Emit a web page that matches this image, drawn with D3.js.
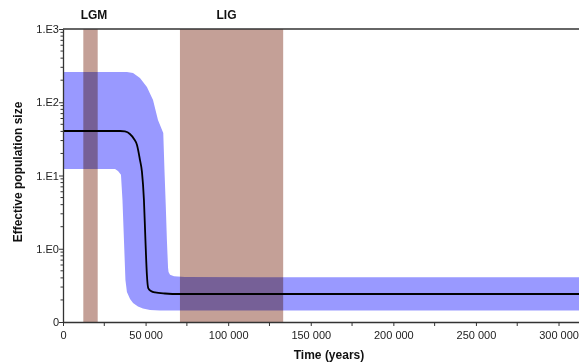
<!DOCTYPE html>
<html>
<head>
<meta charset="utf-8">
<script src="https://cdn.jsdelivr.net/npm/d3@7"></script>
<style>
  html, body { margin: 0; padding: 0; background: #fff; }
  svg { display: block; font-family: "Liberation Sans", Arial, sans-serif; }
</style>
</head>
<body>
<svg id="chart" width="579" height="364"></svg>
<script>
// ---- data ----
const medianTime = [0, 34500, 37500, 40500, 43000, 44800, 46600, 47800, 49000, 49900, 50800, 51600, 53300, 55700, 61700, 70800, 312400];
const medianSize = [40.5, 40.5, 39.9, 36.9, 31.5, 26.1, 16.3, 11.2, 4.63, 1.32, 0.438, 0.291, 0.265, 0.253, 0.245, 0.241, 0.241];

const lowerTime = [0, 31500, 33300, 35100, 36000, 36900, 37800, 38700, 40600, 42400, 45400, 48400, 52700, 58700, 312400];
const lowerSize = [12.27, 12.27, 11.5, 10.2, 4.63, 1.32, 0.374, 0.257, 0.206, 0.182, 0.163, 0.153, 0.146, 0.1436, 0.1436];

const upperTime = [0, 38700, 42400, 46600, 50800, 54500, 57500, 60700, 61400, 62200, 62900, 63600, 63900, 64800, 67200, 73800, 312400];
const upperSize = [259, 259, 251, 214, 162, 107, 57.3, 38.0, 12.5, 4.0, 1.32, 0.55, 0.48, 0.44, 0.42, 0.41, 0.407];

const bandNames = ["LGM", "LIG"];
const bandStart = [12300, 70800];
const bandEnd = [21000, 133300];
const bandLabelTime = [18800, 99000];

const xTicks = [0, 50000, 100000, 150000, 200000, 250000, 300000];
const xMinorTicks = [25000, 75000, 125000, 175000, 225000, 275000];
const yTicks = [0.1, 1, 10, 100, 1000];
const yTickLabels = ["0", "1.E0", "1.E1", "1.E2", "1.E3"];

// ---- layout ----
const svg = d3.select("#chart");
const x = d3.scaleLinear().domain([0, 312400]).range([63, 579]);
const y = d3.scaleLog().domain([0.1, 1000]).range([322, 29]);

const loc = d3.formatLocale({decimal: ".", thousands: " ", grouping: [3], currency: ["", ""]});
const fmt = loc.format(",");

// HPD band
const bandData = upperTime.map((t, i) => ({t, v: upperSize[i]}));
const lowerData = lowerTime.map((t, i) => ({t, v: lowerSize[i]}));
const areaPath = d3.line().x(d => x(d.t)).y(d => y(d.v));
const poly = bandData.concat(lowerData.slice().reverse());
svg.append("path")
  .attr("d", areaPath(poly) + "Z")
  .attr("fill", "#9999ff");

// Glacial bands (multiply blend)
svg.selectAll("rect.band").data(bandNames).enter().append("rect")
  .attr("class", "band")
  .attr("x", (d, i) => x(bandStart[i]))
  .attr("width", (d, i) => x(bandEnd[i]) - x(bandStart[i]))
  .attr("y", y(1000))
  .attr("height", y(0.1) - y(1000))
  .attr("fill", "#c4a097")
  .style("mix-blend-mode", "multiply");

svg.selectAll("text.bandlabel").data(bandNames).enter().append("text")
  .attr("x", (d, i) => x(bandLabelTime[i]))
  .attr("y", 19)
  .attr("text-anchor", "middle")
  .attr("font-size", 12)
  .attr("font-weight", "bold")
  .attr("fill", "#111")
  .text(d => d);

// median line
const medData = medianTime.map((t, i) => ({t, v: medianSize[i]}));
svg.append("path")
  .attr("d", d3.line().x(d => x(d.t)).y(d => y(d.v)).curve(d3.curveMonotoneX)(medData))
  .attr("fill", "none")
  .attr("stroke", "#000")
  .attr("stroke-width", 1.8);

// top line
svg.append("line")
  .attr("x1", x(0)).attr("x2", 579)
  .attr("y1", y(1000)).attr("y2", y(1000))
  .attr("stroke", "#333").attr("stroke-width", 1.5);

// x axis
const xAxis = svg.append("g").attr("transform", `translate(0,${y(0.1)})`);
xAxis.call(d3.axisBottom(x).tickValues(xTicks).tickFormat(fmt).tickSize(4).tickSizeOuter(0));
xAxis.append("g").selectAll("line").data(xMinorTicks).enter().append("line")
  .attr("x1", d => x(d)).attr("x2", d => x(d)).attr("y1", 0).attr("y2", 4)
  .attr("stroke", "#333");
xAxis.select(".domain").attr("stroke", "#333").attr("stroke-width", 1.3);
xAxis.selectAll(".tick line").attr("stroke", "#333");
xAxis.selectAll(".tick text").attr("font-size", 11).attr("fill", "#222")
  .attr("font-family", "Liberation Sans, Arial, sans-serif").attr("dy", "0.9em");

// y axis
const yAxis = svg.append("g").attr("transform", `translate(${x(0)},0)`);
yAxis.call(d3.axisLeft(y).tickValues(yTicks).tickFormat((d, i) => yTickLabels[i]).tickSize(4).tickSizeOuter(0));
const yMinor = [];
for (let e = -1; e < 3; e++) for (let k = 2; k <= 9; k++) yMinor.push(k * Math.pow(10, e));
yAxis.append("g").selectAll("line").data(yMinor).enter().append("line")
  .attr("x1", -2.5).attr("x2", 0).attr("y1", d => y(d)).attr("y2", d => y(d))
  .attr("stroke", "#333");
yAxis.select(".domain").attr("stroke", "#333").attr("stroke-width", 1.3);
yAxis.selectAll(".tick line").attr("stroke", "#333");
yAxis.selectAll(".tick text").attr("font-size", 11).attr("fill", "#222")
  .attr("font-family", "Liberation Sans, Arial, sans-serif").attr("x", -4);

// axis titles
svg.append("text")
  .attr("x", 329).attr("y", 359)
  .attr("text-anchor", "middle")
  .attr("font-size", 12).attr("font-weight", "bold").attr("fill", "#111")
  .text("Time (years)");
svg.append("text")
  .attr("transform", "translate(22,172) rotate(-90)")
  .attr("text-anchor", "middle")
  .attr("font-size", 12).attr("font-weight", "bold").attr("fill", "#111")
  .text("Effective population size");
</script>
</body>
</html>
